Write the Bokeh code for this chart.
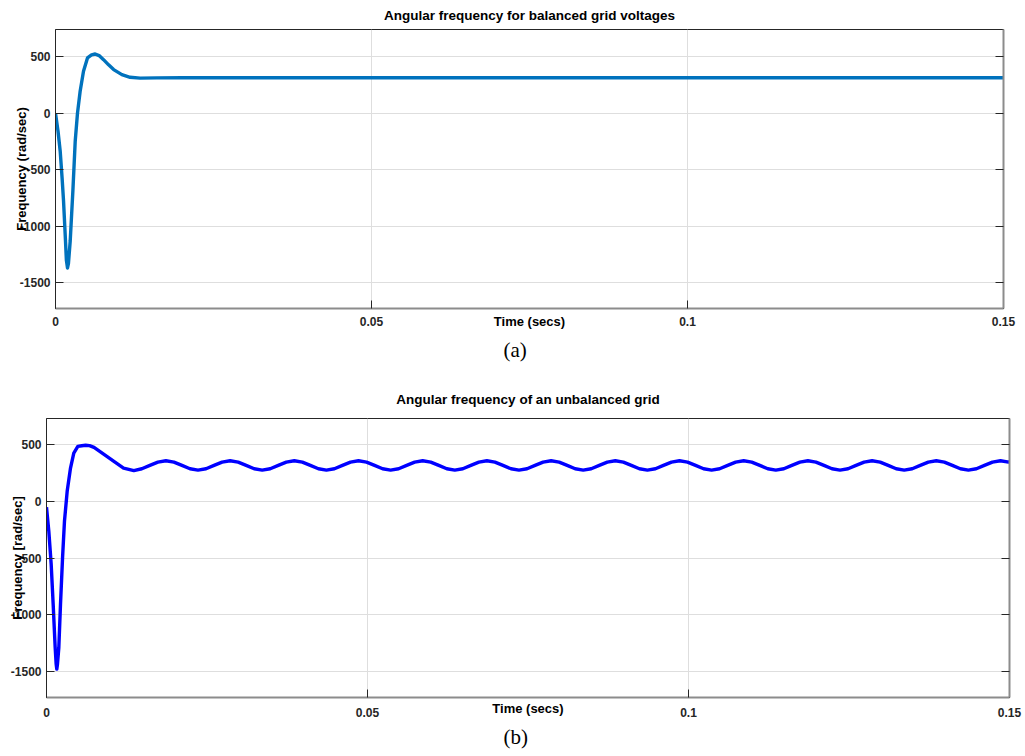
from bokeh.plotting import figure
from bokeh.models import (Range1d, FixedTicker, LinearAxis, NumeralTickFormatter,
                          CustomJSTickFormatter, Title)
from bokeh.embed import file_html
from bokeh.resources import INLINE

# ---------------- data ----------------
x_ticks = [0, 0.05, 0.1, 0.15]
y_ticks = [-1500, -1000, -500, 0, 500]

title_a = "Angular frequency for balanced grid voltages"
title_b = "Angular frequency of an unbalanced grid"
xlabel = "Time (secs)"
ylabel_a = "Frequency (rad/sec)"
ylabel_b = "Frequency [rad/sec]"
tag_a = "(a)"
tag_b = "(b)"

# (a) balanced grid
t_a = [0, 0.0004, 0.00074, 0.00105, 0.00127, 0.00158, 0.00172, 0.0019, 0.00205,
       0.00233, 0.00275, 0.00312, 0.00348, 0.0039, 0.00443, 0.00506, 0.0057,
       0.00628, 0.0069, 0.0076, 0.0084, 0.0092, 0.0105, 0.0118, 0.0134, 0.016,
       0.02, 0.15]
w_a = [0, -160, -335, -580, -777, -1130, -1300, -1371, -1330,
       -1130, -688, -247, 0, 194, 371, 489, 516,
       524, 510, 474, 428, 386, 341, 318, 310, 313,
       314, 314]

# (b) unbalanced grid
t_b = [0, 0.00036, 0.00073, 0.00104, 0.00135, 0.0015, 0.0016, 0.0017, 0.00192,
       0.00218, 0.0025, 0.0028, 0.00322, 0.00374, 0.00425, 0.00488, 0.0055,
       0.0061, 0.0067, 0.0074, 0.0089, 0.0105, 0.012,
       0.0136, 0.01485, 0.0161, 0.01735, 0.0186, 0.01985, 0.0211, 0.02235,
       0.0236, 0.02485, 0.0261, 0.02735, 0.0286, 0.02985, 0.0311, 0.03235,
       0.0336, 0.03485, 0.0361, 0.03735, 0.0386, 0.03985, 0.0411, 0.04235,
       0.0436, 0.04485, 0.0461, 0.04735, 0.0486, 0.04985, 0.0511, 0.05235,
       0.0536, 0.05485, 0.0561, 0.05735, 0.0586, 0.05985, 0.0611, 0.06235,
       0.0636, 0.06485, 0.0661, 0.06735, 0.0686, 0.06985, 0.0711, 0.07235,
       0.0736, 0.07485, 0.0761, 0.07735, 0.0786, 0.07985, 0.0811, 0.08235,
       0.0836, 0.08485, 0.0861, 0.08735, 0.0886, 0.08985, 0.0911, 0.09235,
       0.0936, 0.09485, 0.0961, 0.09735, 0.0986, 0.09985, 0.1011, 0.10235,
       0.1036, 0.10485, 0.1061, 0.10735, 0.1086, 0.10985, 0.1111, 0.11235,
       0.1136, 0.11485, 0.1161, 0.11735, 0.1186, 0.11985, 0.1211, 0.12235,
       0.1236, 0.12485, 0.1261, 0.12735, 0.1286, 0.12985, 0.1311, 0.13235,
       0.1336, 0.13485, 0.1361, 0.13735, 0.1386, 0.13985, 0.1411, 0.14235,
       0.1436, 0.14485, 0.1461, 0.14735, 0.1486, 0.14985, 0.15]
w_b = [-50, -261, -554, -906, -1287, -1430, -1478, -1440, -1287,
       -906, -496, -173, 91, 296, 428, 487, 493,
       497, 494, 478, 419, 355, 296,
       274, 290, 319, 348, 360, 348, 319, 290,
       278, 290, 319, 348, 360, 348, 319, 290,
       278, 290, 319, 348, 360, 348, 319, 290,
       278, 290, 319, 348, 360, 348, 319, 290,
       278, 290, 319, 348, 360, 348, 319, 290,
       278, 290, 319, 348, 360, 348, 319, 290,
       278, 290, 319, 348, 360, 348, 319, 290,
       278, 290, 319, 348, 360, 348, 319, 290,
       278, 290, 319, 348, 360, 348, 319, 290,
       278, 290, 319, 348, 360, 348, 319, 290,
       278, 290, 319, 348, 360, 348, 319, 290,
       278, 290, 319, 348, 360, 348, 319, 290,
       278, 290, 319, 348, 360, 348, 319, 290,
       278, 290, 319, 348, 360, 348, 358]

FONT = "Liberation Sans"
SERIF = "Liberation Serif"
TXT = "#262626"


def make_panel(t, w, color, yr, height, borders, cfg):
    bl, br, bt, bb = borders
    p = figure(width=1025, height=height,
               x_range=Range1d(0, 0.15), y_range=Range1d(*yr),
               output_backend="svg", toolbar_location=None,
               min_border_left=bl, min_border_right=br,
               min_border_top=bt, min_border_bottom=bb)
    p.background_fill_color = "white"
    p.border_fill_color = "white"
    p.outline_line_color = "#262626"
    p.outline_line_width = 1

    p.line(t, w, line_color=color, line_width=3.4, line_join="round")

    # title
    p.title.text = cfg["title"]
    p.title.align = "center"
    p.title.vertical_align = "middle"
    p.title.text_font = FONT
    p.title.text_font_style = "bold"
    p.title.text_font_size = "13.5px"
    p.title.text_color = "#000000"
    p.title.standoff = cfg["title_standoff"]

    # axes
    xa = p.xaxis[0]
    xa.ticker = FixedTicker(ticks=x_ticks)
    xa.formatter = NumeralTickFormatter(format="0.[00]")
    ya = p.yaxis[0]
    ya.ticker = FixedTicker(ticks=y_ticks)
    ya.formatter = NumeralTickFormatter(format="0")
    for ax in (xa, ya):
        ax.major_tick_in = 8
        ax.major_tick_out = 0
        ax.minor_tick_in = 0
        ax.minor_tick_out = 0
        ax.major_tick_line_color = "#262626"
        ax.major_label_text_font = FONT
        ax.major_label_text_font_style = "bold"
        ax.major_label_text_font_size = "12px"
        ax.major_label_text_color = TXT
        ax.axis_label_text_font = FONT
        ax.axis_label_text_font_style = "bold"
        ax.axis_label_text_color = "#000000"
    xa.axis_line_color = "#8c8c8c"
    xa.axis_line_width = 2
    xa.major_label_standoff = cfg["xstand"]
    xa.axis_label = xlabel
    xa.axis_label_text_font_size = "13px"
    xa.axis_label_standoff = cfg["xlab_standoff"]
    ya.axis_line_color = "#262626"
    ya.axis_line_width = 1
    ya.major_label_standoff = 5
    ya.axis_label = cfg["ylabel"]
    ya.axis_label_text_font_size = "13px"
    ya.axis_label_standoff = cfg["ylab_standoff"]

    ra = LinearAxis(ticker=FixedTicker(ticks=y_ticks),
                    formatter=CustomJSTickFormatter(code="return ''"),
                    major_tick_in=8, major_tick_out=0,
                    minor_tick_in=0, minor_tick_out=0,
                    major_tick_line_color="#262626",
                    axis_line_color="#8c8c8c", axis_line_width=2,
                    major_label_standoff=0)
    p.add_layout(ra, "right")

    # grids
    p.xgrid.ticker = FixedTicker(ticks=x_ticks)
    p.ygrid.ticker = FixedTicker(ticks=y_ticks)
    for g in (p.xgrid[0], p.ygrid[0]):
        g.grid_line_color = "#dedede"
        g.grid_line_width = 1

    # sub-figure tag
    p.add_layout(Title(text=cfg["tag"], align="left", text_font=SERIF,
                       text_font_style="normal", text_font_size="21px",
                       text_color="#000000", standoff=cfg["tag_standoff"],
                       offset=cfg["tag_offset"]), "below")
    return p


p1 = make_panel(t_a, w_a, "#0072BD", (-1730, 741), 380, (55, 22, 28, 72),
                dict(title=title_a, title_standoff=12, ylabel=ylabel_a,
                     ylab_standoff=-12, xstand=8, xlab_standoff=-15,
                     tag=tag_a, tag_standoff=8, tag_offset=448))
p2 = make_panel(t_b, w_b, "#0000FF", (-1728, 733), 376, (46, 16, 37, 59),
                dict(title=title_b, title_standoff=21, ylabel=ylabel_b,
                     ylab_standoff=-17, xstand=10, xlab_standoff=-19,
                     tag=tag_b, tag_standoff=8, tag_offset=457))

open("out.html", "w").write(file_html([p1, p2], INLINE))
